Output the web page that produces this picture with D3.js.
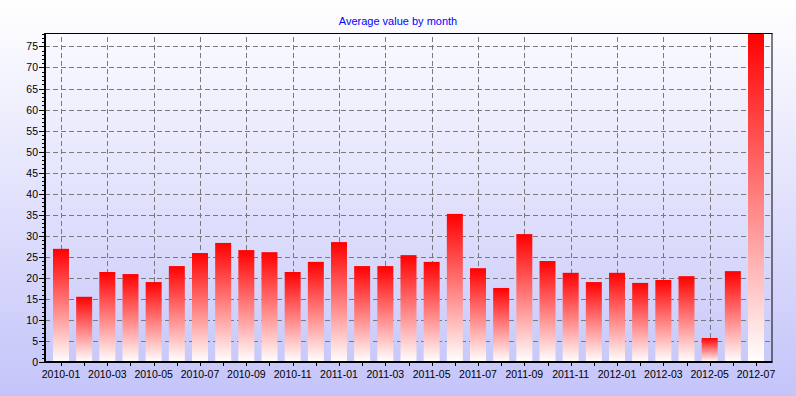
<!DOCTYPE html>
<html>
<head>
<meta charset="utf-8">
<script src="https://cdn.jsdelivr.net/npm/d3@7"></script>
<style>
  body { margin: 0; padding: 0; }
  svg { display: block; font-family: "Liberation Sans", Arial, sans-serif; }
</style>
</head>
<body>
<div id="chart"></div>
<script>
// Chart data
const months = ["2010-01", "2010-02", "2010-03", "2010-04", "2010-05", "2010-06",
                "2010-07", "2010-08", "2010-09", "2010-10", "2010-11", "2010-12",
                "2011-01", "2011-02", "2011-03", "2011-04", "2011-05", "2011-06",
                "2011-07", "2011-08", "2011-09", "2011-10", "2011-11", "2011-12",
                "2012-01", "2012-02", "2012-03", "2012-04", "2012-05", "2012-06",
                "2012-07"];
const values = [26.9, 15.5, 21.4, 20.9, 19.0, 22.8,
                25.9, 28.3, 26.6, 26.1, 21.4, 23.8,
                28.5, 22.8, 22.8, 25.4, 23.8, 35.2,
                22.3, 17.6, 30.4, 24.0, 21.2, 19.0,
                21.2, 18.8, 19.5, 20.4, 5.7, 21.6,
                78.2];
const yTicks = [0, 5, 10, 15, 20, 25, 30, 35, 40, 45, 50, 55, 60, 65, 70, 75];
const yMinorTicks = d3.range(0, 79, 1);
// every other month carries a label
const xLabels = months.filter((m, i) => i % 2 === 0);
const title = "Average value by month";

const data = months.map((m, i) => ({month: m, value: values[i]}));

// Dimensions
let totalWidth = 796, totalHeight = 396;
let margin = {top: 33, right: 23.5, bottom: 34, left: 45};
let width = totalWidth - margin.left - margin.right;
let height = totalHeight - margin.top - margin.bottom;

let root = d3.select("#chart")
             .append("svg")
             .attr("width", totalWidth)
             .attr("height", totalHeight);

// Gradients
let defs = root.append("defs");

let bgGrad = defs.append("linearGradient")
                 .attr("id", "bg-gradient")
                 .attr("x1", "0%").attr("y1", "0%")
                 .attr("x2", "0%").attr("y2", "100%");
bgGrad.append("stop").attr("offset", "0%").attr("stop-color", "#ffffff");
bgGrad.append("stop").attr("offset", "100%").attr("stop-color", "#c4c4fa");

let barGrad = defs.append("linearGradient")
                  .attr("id", "bar-gradient")
                  .attr("x1", "0%").attr("y1", "0%")
                  .attr("x2", "0%").attr("y2", "100%");
barGrad.append("stop").attr("offset", "0%").attr("stop-color", "#ff0000");
barGrad.append("stop").attr("offset", "100%").attr("stop-color", "#ffffff");

defs.append("clipPath")
    .attr("id", "plot-clip")
    .append("rect")
    .attr("width", width)
    .attr("height", height);

// Background
root.append("rect")
    .attr("width", totalWidth)
    .attr("height", totalHeight)
    .attr("fill", "url(#bg-gradient)");

let svg = root.append("g")
              .attr("transform", `translate(${margin.left},${margin.top})`);

// Scales
let x = d3.scaleBand()
          .domain(months)
          .range([8, width - 8.5])
          .paddingInner(0.31)
          .paddingOuter(0);

let y = d3.scaleLinear()
          .domain([0, 78.2])
          .range([height, 0]);

let xc = d => x(d) + x.bandwidth() / 2;

// Grid lines
svg.append("g")
   .selectAll("line")
   .data(yTicks.filter(d => d > 0))
   .enter()
   .append("line")
   .attr("x1", 0)
   .attr("x2", width)
   .attr("y1", d => Math.round(y(d)) + 0.5)
   .attr("y2", d => Math.round(y(d)) + 0.5)
   .attr("stroke", "#7a7a7a")
   .attr("stroke-dasharray", "5,3");

svg.append("g")
   .selectAll("line")
   .data(xLabels)
   .enter()
   .append("line")
   .attr("x1", d => Math.round(xc(d)) + 0.5)
   .attr("x2", d => Math.round(xc(d)) + 0.5)
   .attr("y1", 4)
   .attr("y2", height)
   .attr("stroke", "#7a7a7a")
   .attr("stroke-dasharray", "5,3");

// Bars
svg.append("g")
   .attr("clip-path", "url(#plot-clip)")
   .selectAll(".bar")
   .data(data)
   .enter()
   .append("rect")
   .attr("class", "bar")
   .attr("x", d => x(d.month))
   .attr("y", d => y(d.value))
   .attr("width", x.bandwidth())
   .attr("height", d => height - y(d.value))
   .attr("fill", "url(#bar-gradient)");

// Frame: thin top and right
svg.append("line")
   .attr("x1", 0).attr("x2", width)
   .attr("y1", 0.5).attr("y2", 0.5)
   .attr("stroke", "#000");
svg.append("line")
   .attr("x1", width - 0.5).attr("x2", width - 0.5)
   .attr("y1", 0).attr("y2", height)
   .attr("stroke", "#000");

// Y axis
let yAxis = svg.append("g");
yAxis.selectAll(".minor")
     .data(yMinorTicks)
     .enter()
     .append("line")
     .attr("x1", -3).attr("x2", 0)
     .attr("y1", d => Math.round(y(d)) + 0.5)
     .attr("y2", d => Math.round(y(d)) + 0.5)
     .attr("stroke", "#000");
yAxis.selectAll(".major")
     .data(yTicks)
     .enter()
     .append("line")
     .attr("x1", -6).attr("x2", 0)
     .attr("y1", d => Math.round(y(d)) + 0.5)
     .attr("y2", d => Math.round(y(d)) + 0.5)
     .attr("stroke", "#000");
yAxis.selectAll("text")
     .data(yTicks)
     .enter()
     .append("text")
     .attr("x", -7)
     .attr("y", d => y(d) + 4)
     .attr("text-anchor", "end")
     .style("font-size", "10.5px")
     .text(d => d);

// X axis
let xAxis = svg.append("g")
               .attr("transform", `translate(0, ${height})`);
xAxis.selectAll(".tick")
     .data(months)
     .enter()
     .append("line")
     .attr("x1", d => Math.round(xc(d)) + 0.5)
     .attr("x2", d => Math.round(xc(d)) + 0.5)
     .attr("y1", 0)
     .attr("y2", 4)
     .attr("stroke", "#000");
xAxis.selectAll("text")
     .data(xLabels)
     .enter()
     .append("text")
     .attr("x", d => xc(d))
     .attr("y", 16)
     .attr("text-anchor", "middle")
     .style("font-size", "10.5px")
     .text(d => d);

// Thick left and bottom axis lines
svg.append("line")
   .attr("x1", 0).attr("x2", 0)
   .attr("y1", 0).attr("y2", height + 1)
   .attr("stroke", "#000")
   .attr("stroke-width", 2);
svg.append("line")
   .attr("x1", -1).attr("x2", width)
   .attr("y1", height).attr("y2", height)
   .attr("stroke", "#000")
   .attr("stroke-width", 2);

// Title
root.append("text")
    .attr("x", totalWidth / 2)
    .attr("y", 25)
    .attr("text-anchor", "middle")
    .attr("fill", "#0000ff")
    .style("font-size", "11px")
    .text(title);
</script>
</body>
</html>
